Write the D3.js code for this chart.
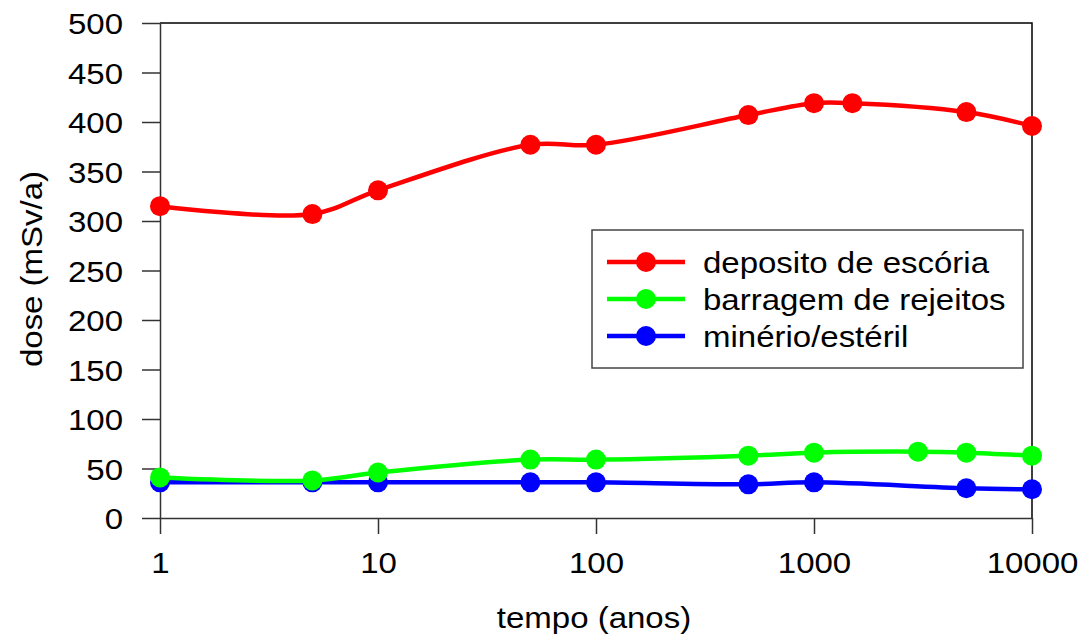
<html>
<head>
<meta charset="utf-8">
<script src="https://d3js.org/d3.v7.min.js"></script>
<style>
  body { margin: 0; background: #fff; }
  text { font-family: "Liberation Sans", Arial, sans-serif; fill: #000; }
</style>
</head>
<body>
<svg id="chart" width="1082" height="638"></svg>
<script>
// values
const seriesNames = ["deposito de escória", "barragem de rejeitos", "minério/estéril"];
const seriesColors = ["#ff0000", "#00ff00", "#0000ff"];

const redX = [1, 5, 10, 50, 100, 500, 1000, 1500, 5000, 10000];
const redY = [315, 307, 331, 377, 377, 407, 419, 419, 410, 396];

const greenX = [1, 5, 10, 50, 100, 500, 1000, 3000, 5000, 10000];
const greenY = [41, 38, 46, 59, 59, 63, 66, 67, 66, 63];

const blueX = [1, 5, 10, 50, 100, 500, 1000, 5000, 10000];
const blueY = [36, 36, 36, 36, 36, 34, 36, 30, 29];

const xTicks = [1, 10, 100, 1000, 10000];
const yTicks = [0, 50, 100, 150, 200, 250, 300, 350, 400, 450, 500];

const fontSize = 30;
const stretch = 1.1; // original glyphs are a bit wider than Liberation Sans

const svg = d3.select("svg#chart");
const margins = { top: 23, left: 160, right: 50, bottom: 120 };
const plotW = 1032 - margins.left;
const plotH = 518 - margins.top;

const xScale = d3.scaleLog().domain([1, 10000]).range([margins.left, margins.left + plotW]);
const yScale = d3.scaleLinear().domain([0, 500]).range([margins.top + plotH, margins.top]);

// stretch a text horizontally around its anchor x
function widen(sel) {
  sel.each(function () {
    const t = d3.select(this);
    const x = +t.attr("x") || 0;
    t.attr("transform", `translate(${x},0) scale(${stretch},1) translate(${-x},0)`);
  });
}

// frame top + right
svg.append("path")
  .attr("d", `M${margins.left},${margins.top}H${margins.left + plotW}V${margins.top + plotH}`)
  .attr("fill", "none").attr("stroke", "#000").attr("stroke-width", 1.5);

const yAxis = svg.append("g")
  .attr("transform", `translate(${margins.left},0)`)
  .call(d3.axisLeft(yScale).tickValues(yTicks).tickSize(18).tickPadding(19).tickSizeOuter(0));

const xAxis = svg.append("g")
  .attr("transform", `translate(0,${margins.top + plotH})`)
  .call(d3.axisBottom(xScale).tickValues(xTicks).tickFormat(d3.format("d")).tickSize(16).tickPadding(12).tickSizeOuter(0));

[yAxis, xAxis].forEach(ax => {
  ax.selectAll("path.domain").attr("stroke", "#333").attr("stroke-width", 1.5);
  ax.selectAll(".tick line").attr("stroke", "#333").attr("stroke-width", 1.5);
  ax.selectAll("text").attr("font-size", fontSize).attr("font-family", "Liberation Sans, Arial, sans-serif").attr("fill", "#000");
  widen(ax.selectAll("text"));
});
yAxis.selectAll("text").attr("dy", "0.36em");
xAxis.selectAll("text").attr("dy", "0.9em");

svg.append("text")
  .attr("transform", `translate(42,269) rotate(-90) scale(${stretch},1)`)
  .attr("text-anchor", "middle")
  .attr("font-size", fontSize)
  .text("dose (mSv/a)");

svg.append("text")
  .attr("x", 594).attr("y", 628)
  .attr("text-anchor", "middle")
  .attr("font-size", fontSize)
  .text("tempo (anos)")
  .call(widen);

const series = [
  { name: seriesNames[0], color: seriesColors[0], xs: redX, ys: redY },
  { name: seriesNames[1], color: seriesColors[1], xs: greenX, ys: greenY },
  { name: seriesNames[2], color: seriesColors[2], xs: blueX, ys: blueY }
];

const line = d3.line()
  .x(d => xScale(d[0]))
  .y(d => yScale(d[1]))
  .curve(d3.curveCatmullRom.alpha(0.5));

// draw bottom series first so red ends on top like the original
series.slice().reverse().forEach(s => {
  const pts = s.xs.map((x, i) => [x, s.ys[i]]);
  svg.append("path")
    .datum(pts)
    .attr("d", line)
    .attr("fill", "none")
    .attr("stroke", s.color)
    .attr("stroke-width", 4.5);
  svg.selectAll(null)
    .data(pts)
    .join("circle")
    .attr("cx", d => xScale(d[0]))
    .attr("cy", d => yScale(d[1]))
    .attr("r", 10)
    .attr("fill", s.color);
});

// legend
const legend = svg.append("g");
legend.append("rect")
  .attr("x", 592).attr("y", 230)
  .attr("width", 431).attr("height", 138)
  .attr("fill", "#fff").attr("stroke", "#444").attr("stroke-width", 1.5);

const rows = legend.selectAll("g.item")
  .data(series)
  .join("g")
  .attr("class", "item")
  .attr("transform", (d, i) => `translate(0,${262 + i * 37})`);

rows.append("line")
  .attr("x1", 607).attr("x2", 685)
  .attr("stroke", d => d.color).attr("stroke-width", 4.5);
rows.append("circle")
  .attr("cx", 646).attr("r", 10)
  .attr("fill", d => d.color);
rows.append("text")
  .attr("x", 703).attr("dy", "0.36em")
  .attr("font-size", fontSize)
  .text(d => d.name)
  .call(widen);
</script>
</body>
</html>
